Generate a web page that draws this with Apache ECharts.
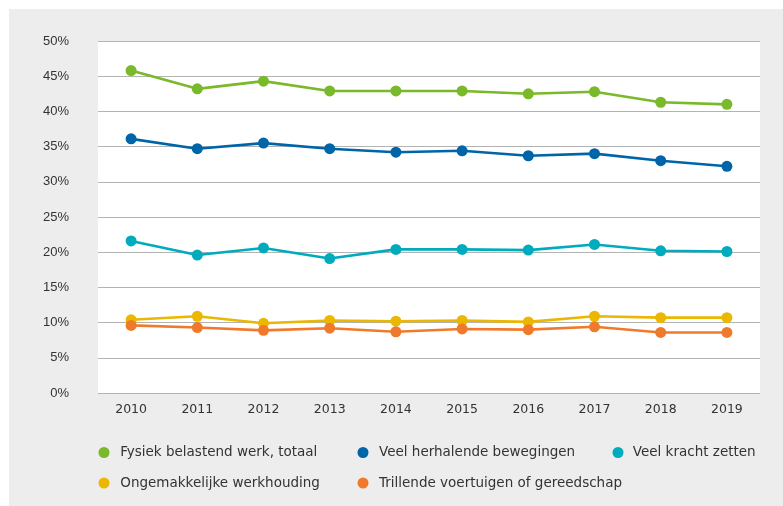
<!DOCTYPE html>
<html>
<head>
<meta charset="utf-8">
<script src="https://cdn.jsdelivr.net/npm/echarts@6/dist/echarts.min.js"></script>
<style>
html,body{margin:0;padding:0;background:#ffffff;}
#bg{position:absolute;left:9px;top:9px;width:774px;height:497px;background:#ededed;}
#chart{position:absolute;left:0;top:0;width:783px;height:506px;}
</style>
</head>
<body>
<div id="bg"></div>
<div id="chart"></div>
<script>
const years = ['2010','2011','2012','2013','2014','2015','2016','2017','2018','2019'];
const seriesNames = [
  'Fysiek belastend werk, totaal',
  'Veel herhalende bewegingen',
  'Veel kracht zetten',
  'Ongemakkelijke werkhouding',
  'Trillende voertuigen of gereedschap'
];
const fysiek    = [45.8, 43.2, 44.3, 42.9, 42.9, 42.9, 42.5, 42.8, 41.3, 41.0];
const herhalend = [36.1, 34.7, 35.5, 34.7, 34.2, 34.4, 33.7, 34.0, 33.0, 32.2];
const kracht    = [21.6, 19.6, 20.6, 19.1, 20.4, 20.4, 20.3, 21.1, 20.2, 20.1];
const houding   = [10.4, 10.9, 9.9, 10.3, 10.2, 10.3, 10.1, 10.9, 10.7, 10.7];
const trillend  = [9.6, 9.3, 8.9, 9.2, 8.7, 9.1, 9.0, 9.4, 8.6, 8.6];
const yMin = 0, yMax = 50, yStep = 5;

const colors = ['#79b92a', '#0065a8', '#00abbe', '#ebb700', '#ef7a2c'];
const values = [fysiek, herhalend, kracht, houding, trillend];

const chart = echarts.init(document.getElementById('chart'), null, {renderer: 'canvas'});

const legendFont = {fontFamily: 'DejaVu Sans', fontSize: 13.5, color: '#333333'};
function legendItem(i, left, top, w) {
  return {
    data: [seriesNames[i]],
    left: left, top: top,
    orient: 'horizontal',
    padding: 0,
    icon: 'circle',
    itemWidth: w, itemHeight: 11,
    selectedMode: false,
    textStyle: legendFont
  };
}

const option = {
  animation: false,
  backgroundColor: 'transparent',
  color: colors,
  grid: {
    left: 98, right: 23, top: 41, bottom: 113,
    show: true, backgroundColor: '#ffffff', borderWidth: 0
  },
  legend: [
    legendItem(0, 98.5, 445.5, 22.5),
    legendItem(1, 357.5, 445.5, 22),
    legendItem(2, 612.5, 445.5, 19.5),
    legendItem(3, 98.5, 476, 22.5),
    legendItem(4, 357.5, 476, 22)
  ],
  xAxis: {
    type: 'category',
    data: years,
    boundaryGap: true,
    axisLine: {show: false},
    axisTick: {show: false},
    axisLabel: {margin: 10, fontFamily: 'DejaVu Sans', fontSize: 12.5, color: '#333333'},
    splitLine: {show: false}
  },
  yAxis: {
    type: 'value',
    min: yMin, max: yMax, interval: yStep,
    axisLine: {show: false},
    axisTick: {show: false},
    axisLabel: {margin: 29, fontFamily: 'Liberation Sans', fontSize: 13, color: '#333333', formatter: '{value}%'},
    splitLine: {lineStyle: {color: '#b3b3b3', width: 1}}
  },
  series: values.map((v, i) => ({
    name: seriesNames[i],
    type: 'line',
    data: v,
    symbol: 'circle',
    symbolSize: 11,
    lineStyle: {width: 2.6, color: colors[i]},
    itemStyle: {color: colors[i]},
    z: 2 + i
  }))
};
chart.setOption(option);
</script>
</body>
</html>
